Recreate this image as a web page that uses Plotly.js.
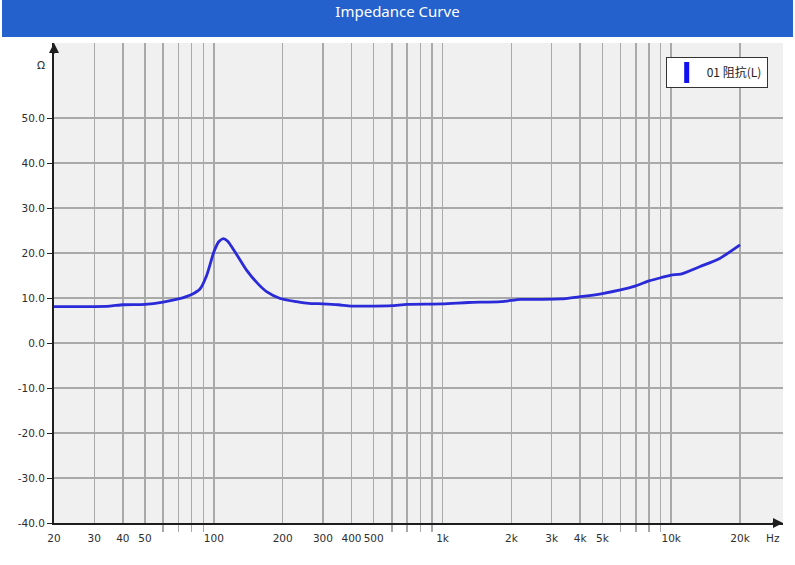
<!DOCTYPE html>
<html>
<head>
<meta charset="utf-8">
<script src="https://cdn.plot.ly/plotly-3.0.1.min.js"></script>
<style>
  html, body { margin: 0; padding: 0; background: #ffffff; }
  #chart { width: 795px; height: 565px; }
</style>
</head>
<body>
<div id="chart"></div>
<script>
// Impedance readings (Hz / Ohm)
var freqHz = [20, 25, 30, 35, 40, 50, 60, 70, 80, 87, 93, 100, 105, 110, 115, 121, 129, 139, 155, 170,
              195, 230, 260, 300, 350, 400, 500, 600, 700, 1000, 1300, 1800, 2200, 2700, 3300, 4000,
              5000, 6000, 7000, 8000, 9000, 10000, 11000, 13400, 16300, 20000];
var impedanceOhm = [8.1, 8.1, 8.1, 8.2, 8.5, 8.6, 9.1, 9.8, 10.8, 12.0, 15.0, 20.2, 22.5, 23.2, 22.6, 21.0, 18.8, 16.2, 13.3, 11.4,
                    9.9, 9.2, 8.8, 8.7, 8.5, 8.2, 8.2, 8.3, 8.6, 8.7, 9.0, 9.2, 9.7, 9.7, 9.8, 10.3,
                    11.0, 11.8, 12.7, 13.8, 14.5, 15.1, 15.3, 17.0, 18.8, 21.8];
var seriesName = '01 阻抗(L)';

// axis ticks
var xTickVals = [20, 30, 40, 50, 100, 200, 300, 400, 500, 1000, 2000, 3000, 4000, 5000, 10000, 20000];
var xTickText = ['20', '30', '40', '50', '100', '200', '300', '400', '500', '1k', '2k', '3k', '4k', '5k', '10k', '20k'];
var xMinorVals = [60, 70, 80, 90, 600, 700, 800, 900, 6000, 7000, 8000, 9000];
var yTickVals = [-40, -30, -20, -10, 0, 10, 20, 30, 40, 50];
var yTickText = ['-40.0', '-30.0', '-20.0', '-10.0', '0.0', '10.0', '20.0', '30.0', '40.0', '50.0'];

var gridColor = '#a9a9a9';
var axisColor = '#1e1e1e';
var tickFont = { family: 'DejaVu Sans, sans-serif', size: 10.5, color: '#2e2e2e' };

var curve = {
    x: freqHz,
    y: impedanceOhm,
    type: 'scatter',
    mode: 'lines',
    line: { color: '#2a2ad8', width: 2.8, shape: 'spline', smoothing: 0.6 },
    showlegend: false,
    hoverinfo: 'x+y'
};

// legend-only entry so the key is a filled block like the original
var legendKey = {
    x: [null],
    y: [null],
    type: 'scatter',
    mode: 'markers',
    name: seriesName,
    marker: { symbol: 'line-ns', size: 15, color: '#1010f0', line: { color: '#1010f0', width: 8 } },
    showlegend: true
};

var layout = {
    width: 795,
    height: 565,
    margin: { l: 54, r: 12, t: 43, b: 42 },
    paper_bgcolor: '#ffffff',
    plot_bgcolor: '#f0f0f0',
    title: {
        text: 'Impedance Curve',
        font: { family: 'Noto Sans, sans-serif', size: 15, color: '#ffffff' },
        x: 0.5, xanchor: 'center',
        y: 0.979, yanchor: 'middle'
    },
    xaxis: {
        type: 'log',
        range: [Math.log10(20), 4.489],
        tickvals: xTickVals,
        ticktext: xTickText,
        ticks: '',
        ticklabelstandoff: 4,
        tickfont: tickFont,
        showgrid: true,
        gridcolor: gridColor,
        gridwidth: 1.5,
        showline: true,
        linecolor: axisColor,
        linewidth: 2,
        zeroline: false,
        minor: {
            tickvals: xMinorVals,
            showgrid: true,
            gridcolor: gridColor,
            gridwidth: 1.5,
            ticks: 'outside',
            ticklen: 7,
            tickcolor: gridColor,
            tickwidth: 1.5
        },
        fixedrange: true
    },
    yaxis: {
        range: [-40, 66.67],
        tickvals: yTickVals,
        ticktext: yTickText,
        ticks: 'outside',
        ticklen: 5,
        tickcolor: axisColor,
        tickfont: tickFont,
        showgrid: true,
        gridcolor: gridColor,
        gridwidth: 1.5,
        showline: true,
        linecolor: axisColor,
        linewidth: 2,
        zeroline: false,
        fixedrange: true
    },
    legend: {
        x: 0.979, xanchor: 'right',
        y: 0.971, yanchor: 'top',
        bgcolor: '#ffffff',
        bordercolor: '#333333',
        borderwidth: 1,
        font: { family: 'Noto Sans CJK SC, DejaVu Sans, sans-serif', size: 12, color: '#222222' },
        itemwidth: 30
    },
    shapes: [{
        // blue title banner
        type: 'rect',
        xref: 'paper', yref: 'paper',
        x0: -0.0713, x1: 1.0137,
        y0: 1.0125, y1: 1.0896,
        fillcolor: '#2461cc',
        line: { width: 0 },
        layer: 'below'
    }],
    annotations: [
        { xref: 'paper', yref: 'paper', x: 0, y: 1, ax: 0, ay: 12, text: '',
          showarrow: true, arrowhead: 2, arrowsize: 1, arrowwidth: 2, arrowcolor: axisColor },
        { xref: 'paper', yref: 'paper', x: 1, y: 0, ax: -12, ay: 0, text: '',
          showarrow: true, arrowhead: 2, arrowsize: 1, arrowwidth: 2, arrowcolor: axisColor },
        { xref: 'paper', yref: 'paper', x: 0.986, y: -0.031, text: 'Hz', showarrow: false,
          font: tickFont, xanchor: 'center', yanchor: 'middle' },
        { xref: 'paper', yref: 'paper', x: -0.0178, y: 0.954, text: 'Ω', showarrow: false,
          font: tickFont, xanchor: 'center', yanchor: 'middle' }
    ]
};

Plotly.newPlot('chart', [curve, legendKey], layout, { displayModeBar: false, staticPlot: true });
</script>
</body>
</html>
